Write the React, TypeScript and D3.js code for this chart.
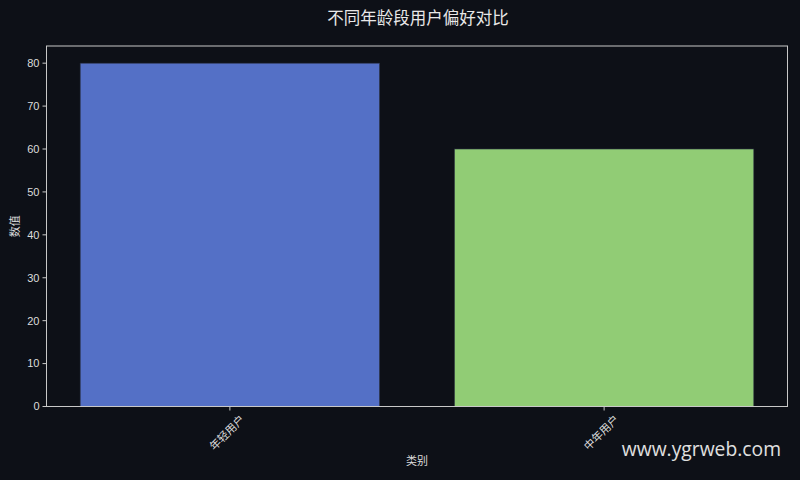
import React, { useEffect, useRef } from 'react';
import * as d3 from 'd3';

const categories = ['年轻用户', '中年用户'];
const values = [80, 60];
const barColors = ['#5470c6', '#91cc75'];
const yTicks = [0, 10, 20, 30, 40, 50, 60, 70, 80];

const W = 800;
const H = 480;
const BG = '#0d1017';
const FG = '#dcdcdc';
const FONT = '"Liberation Sans", "Noto Sans CJK SC", sans-serif';

const App: React.FC = () => {
  const ref = useRef<SVGSVGElement>(null);

  useEffect(() => {
    if (!ref.current) return;
    const svg = d3.select(ref.current);
    svg.selectAll('*').remove();

    const left = 46.5;
    const right = 787.5;
    const top = 46;
    const bottom = 406.5;

    // matplotlib-like: bar width 0.8, 5% margins
    const x = d3.scaleLinear().domain([-0.49, categories.length - 1 + 0.49]).range([left, right]);
    const y = d3.scaleLinear().domain([0, 84]).range([bottom, top]);

    svg.append('rect').attr('width', W).attr('height', H).attr('fill', BG);

    svg
      .selectAll('rect.bar')
      .data(values)
      .enter()
      .append('rect')
      .attr('class', 'bar')
      .attr('x', (_, i) => x(i - 0.4))
      .attr('width', (_, i) => x(i + 0.4) - x(i - 0.4))
      .attr('y', (d) => y(d))
      .attr('height', (d) => y(0) - y(d))
      .attr('fill', (_, i) => barColors[i])
      .attr('stroke', '#2a3040')
      .attr('stroke-width', 0.6);

    // frame
    svg
      .append('rect')
      .attr('x', left)
      .attr('y', top)
      .attr('width', right - left)
      .attr('height', bottom - top)
      .attr('fill', 'none')
      .attr('stroke', '#c8c8c8')
      .attr('stroke-width', 1);

    // y ticks
    const yg = svg.append('g');
    yTicks.forEach((t) => {
      yg.append('line')
        .attr('x1', left - 4)
        .attr('x2', left)
        .attr('y1', y(t))
        .attr('y2', y(t))
        .attr('stroke', '#c8c8c8');
      yg.append('text')
        .attr('x', left - 7)
        .attr('y', y(t))
        .attr('dy', '0.35em')
        .attr('text-anchor', 'end')
        .attr('fill', FG)
        .attr('font-family', FONT)
        .attr('font-size', 11)
        .text(t);
    });

    // x ticks
    const xg = svg.append('g');
    categories.forEach((c, i) => {
      xg.append('line')
        .attr('x1', x(i))
        .attr('x2', x(i))
        .attr('y1', bottom)
        .attr('y2', bottom + 4)
        .attr('stroke', '#c8c8c8');
      xg.append('text')
        .attr('transform', `translate(${x(i) + 10},${bottom + 8}) rotate(-45)`)
        .attr('text-anchor', 'end')
        .attr('dy', '0.7em')
        .attr('fill', FG)
        .attr('font-family', FONT)
        .attr('font-size', 11)
        .text(c);
    });

    svg
      .append('text')
      .attr('x', (left + right) / 2)
      .attr('y', 465)
      .attr('text-anchor', 'middle')
      .attr('fill', FG)
      .attr('font-family', FONT)
      .attr('font-size', 11)
      .text('类别');

    svg
      .append('text')
      .attr('transform', `translate(19,${(top + bottom) / 2}) rotate(-90)`)
      .attr('text-anchor', 'middle')
      .attr('fill', FG)
      .attr('font-family', FONT)
      .attr('font-size', 11)
      .text('数值');

    svg
      .append('text')
      .attr('x', 418)
      .attr('y', 24)
      .attr('text-anchor', 'middle')
      .attr('fill', '#e8e8e8')
      .attr('font-family', FONT)
      .attr('font-size', 16.5)
      .text('不同年龄段用户偏好对比');

    svg
      .append('text')
      .attr('x', 781)
      .attr('y', 456)
      .attr('text-anchor', 'end')
      .attr('fill', '#e0e0e0')
      .attr('font-family', '"Open Sans", "Noto Sans", sans-serif')
      .attr('font-size', 19.3)
      .text('www.ygrweb.com');
  }, []);

  return (
    <svg
      ref={ref}
      width={W}
      height={H}
      style={{ position: 'fixed', left: 0, top: 0, display: 'block' }}
    />
  );
};

export default App;
